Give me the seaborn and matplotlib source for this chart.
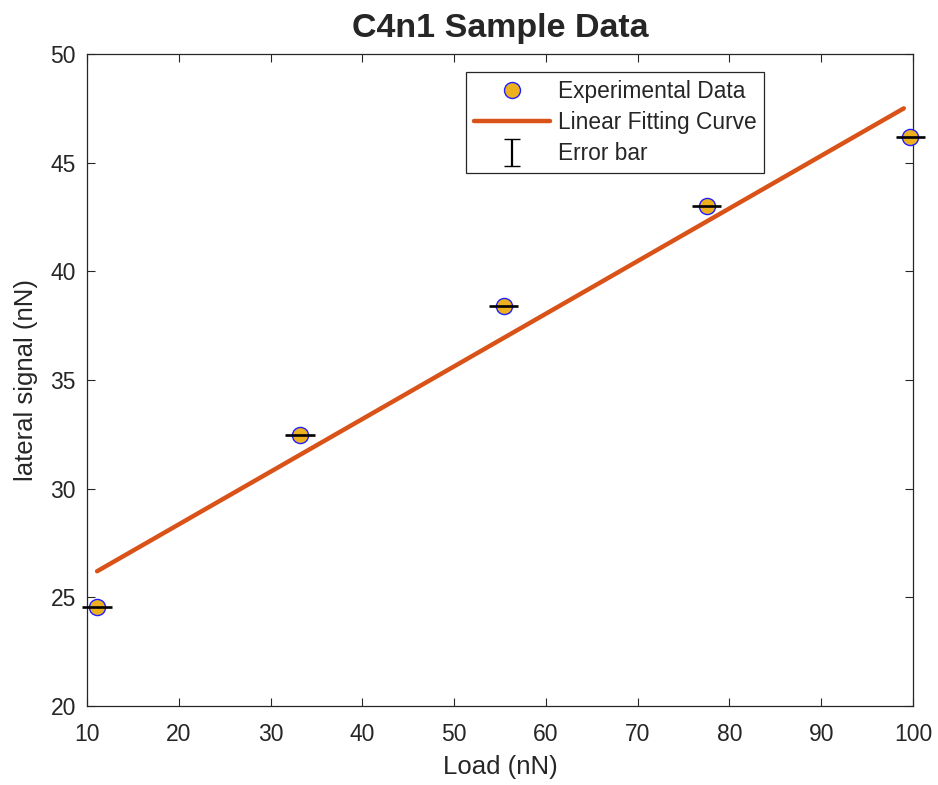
import numpy as np
from matplotlib import pyplot as plt
from matplotlib.lines import Line2D
from matplotlib.legend_handler import HandlerErrorbar
import seaborn as sns
import pandas as pd

load = [11.1, 33.2, 55.4, 77.5, 99.7]
signal = [24.55, 32.45, 38.4, 43.0, 46.2]
load_err = [1.6, 1.6, 1.6, 1.6, 1.6]

# fitted line end points
fit_load = [11.1, 99.0]
fit_signal = [26.2, 47.5]

x_ticks = [10, 20, 30, 40, 50, 60, 70, 80, 90, 100]
y_ticks = [20, 25, 30, 35, 40, 45, 50]

data = pd.DataFrame({'Load (nN)': load, 'lateral signal (nN)': signal})
fit = pd.DataFrame({'Load (nN)': fit_load, 'lateral signal (nN)': fit_signal})

sns.set_theme(style='white')
plt.rcParams['font.family'] = ['Liberation Sans', 'DejaVu Sans']

fig = plt.figure(figsize=(9.38, 7.85), dpi=100)
ax = fig.add_axes([87 / 938, 1 - 706 / 785, 826 / 938, 652 / 785])

sns.lineplot(data=fit, x='Load (nN)', y='lateral signal (nN)', color='#D95319', lw=3.2,
             ax=ax, zorder=3, legend=False)
sns.scatterplot(data=data, x='Load (nN)', y='lateral signal (nN)', s=135, color='#EDB120',
                edgecolor='#2020FF', linewidth=1.0, ax=ax, zorder=4, legend=False, clip_on=False)
# error bars sit on top of the markers, as in the original
eb = ax.errorbar(load, signal, xerr=load_err, fmt='none', ecolor='black', elinewidth=1.9,
                 capsize=0, zorder=5)
for art in eb.lines[2]:
    art.set_clip_on(False)

ax.set_xlim(10, 100)
ax.set_ylim(20, 50)
ax.set_xticks(x_ticks)
ax.set_yticks(y_ticks)
ax.tick_params(axis='both', which='major', direction='in', length=6, width=0.8,
               bottom=True, left=True, top=True, right=True,
               labelsize=16.5, colors='#262626')
ax.tick_params(axis='x', pad=12)
ax.tick_params(axis='y', pad=8)
for s in ax.spines.values():
    s.set_color('#262626')
    s.set_linewidth(0.9)

ax.set_title('C4n1 Sample Data', fontsize=24.5, weight='bold', pad=12.5)
ax.set_xlabel('Load (nN)', fontsize=18.5, color='#262626', labelpad=7)
ax.set_ylabel('lateral signal (nN)', fontsize=18.5, color='#262626', labelpad=9)

# legend proxies
h_pts = Line2D([], [], ls='none', marker='o', markersize=11.5, markerfacecolor='#EDB120',
               markeredgecolor='#2020FF', markeredgewidth=1.0)
h_fit = Line2D([], [], color='#D95319', lw=3.2)
h_err = ax.errorbar([np.nan], [np.nan], yerr=[1], fmt='none', ecolor='black', elinewidth=1.6, capsize=5.5)
leg = ax.legend([h_pts, h_fit, h_err], ['Experimental Data', 'Linear Fitting Curve', 'Error bar'],
                loc='upper right', bbox_to_anchor=(0.82, 0.972), fontsize=16.4, frameon=True,
                fancybox=False, edgecolor='#262626', framealpha=1, handlelength=3.3,
                handletextpad=0.35, borderpad=0.35, labelspacing=0.35, borderaxespad=0,
                handler_map={type(h_err): HandlerErrorbar(yerr_size=0.6)})
leg.get_frame().set_linewidth(0.9)

plt.savefig('out.png', dpi=100)
